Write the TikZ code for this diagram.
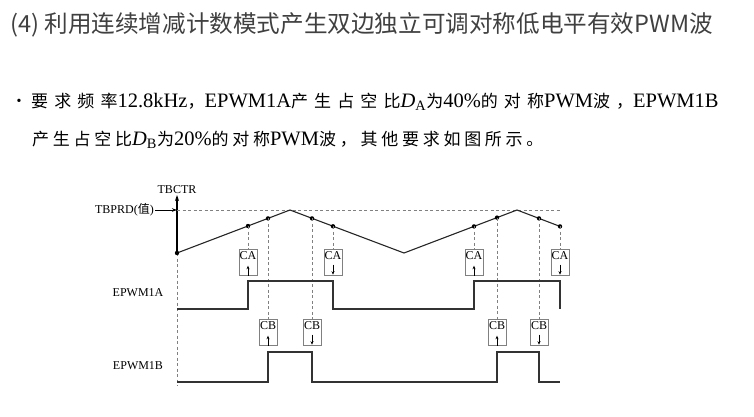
\documentclass[tikz,border=0pt]{standalone}
\usepackage{fontspec}
\setmainfont{Liberation Serif}
\newfontfamily\hanzi{Noto Sans CJK SC}
\newfontfamily\hanzisp[LetterSpace=22]{Noto Sans CJK SC}
\newfontfamily\hanziwide[LetterSpace=36]{Noto Sans CJK SC}
\usetikzlibrary{arrows.meta}
\newcommand\zh[1]{{\hanzisp\fontsize{17}{22}\selectfont #1}}
\newcommand\zhw[1]{{\hanziwide\fontsize{17}{22}\selectfont #1}}

\begin{document}
\begin{tikzpicture}[x=1pt,y=-1pt,
  guide/.style={gray,line width=0.6pt,dash pattern=on 3pt off 2.5pt},
  ramp/.style={line width=1.1pt,black!85},
  wave/.style={line width=1.3pt,black!80},
  evbox/.style={draw=gray,line width=0.7pt,minimum width=18pt,minimum height=26pt,inner sep=0pt},
  lbl/.style={font=\fontsize{12}{14}\selectfont,inner sep=1pt}]
\useasboundingbox (0,0) rectangle (754,417);

% title and requirement
\node[anchor=west,text=black!75,font=\hanzi\fontsize{23.6}{26}\selectfont,inner sep=0pt] (title) at (10,25) {(4) 利用连续增减计数模式产生双边独立可调对称低电平有效PWM波};
\node[font=\fontsize{14}{16}\selectfont,inner sep=0pt] (bullet) at (19,102) {•};
\node[anchor=west,font=\fontsize{20.5}{22}\selectfont,inner sep=0pt] (req1) at (31,102) {\zhw{要求频率}12.8kHz\zhw{，}EPWM1A\zhw{产生占空比}\textit{D}\textsubscript{A}\zhw{为}40\%\zhw{的对称}PWM\zhw{波，}EPWM1B};
\node[anchor=west,font=\fontsize{20.5}{22}\selectfont,inner sep=0pt] (req2) at (32,140) {\zh{产生占空比}\textit{D}\textsubscript{B}\zh{为}20\%\zh{的对称}PWM\zh{波，其他要求如图所示。}};

% counter points
\coordinate (o) at (177,253);
\coordinate (ca1) at (248,226);
\coordinate (cb1) at (268,218.4);
\coordinate (p1) at (290,210);
\coordinate (cb2) at (312,218.4);
\coordinate (ca2) at (333,226.3);
\coordinate (v1) at (404,253);
\coordinate (ca3) at (474,226.4);
\coordinate (cb3) at (497,217.6);
\coordinate (p2) at (517,210);
\coordinate (cb4) at (539,218.4);
\coordinate (ca4) at (560,226.4);
\coordinate (top) at (177,195);
\coordinate (prdaxis) at (177,210);
\coordinate (prdend) at (560,210);
\coordinate (obot) at (177,386);

% axis and period
\draw[line width=1.3pt,-{Stealth[length=6pt,width=4pt]}] (o) -- (top);
\node[lbl,above] (tbctr) at (top) {TBCTR};
\node[lbl,anchor=east] (prd) at (155,210) {TBPRD({\hanzi 值})};
\draw[line width=0.8pt,-{Stealth[length=5pt,width=3.5pt]}] (prd) -- (prdaxis);
\draw[guide] (prdaxis) -- (prdend);
\draw[guide] (o) -- (obot);

% counter
\draw[ramp] (o) -- (p1) -- (v1) -- (p2) -- (ca4);
\foreach \p in {o,ca1,cb1,cb2,ca2,ca3,cb3,cb4,ca4}
  \fill (\p) circle (2.2pt);

% compare events
\foreach \n/\x in {caA1/248,caA2/333,caA3/474,caA4/560}
  \node[evbox,lbl,anchor=north,minimum width=18pt,minimum height=26pt,text depth=14pt,inner sep=0pt] (\n) at (\x,249) {CA};
\foreach \n/\x in {cbB1/268,cbB2/312,cbB3/497,cbB4/539}
  \node[evbox,lbl,anchor=north,minimum width=18pt,minimum height=26pt,text depth=14pt,inner sep=0pt] (\n) at (\x,319) {CB};
\draw[guide] (ca1) -- (caA1.north);
\draw[guide] (ca2) -- (caA2.north);
\draw[guide] (ca3) -- (caA3.north);
\draw[guide] (ca4) -- (caA4.north);
\draw[guide] (cb1) -- (cbB1.north);
\draw[guide] (cb2) -- (cbB2.north);
\draw[guide] (cb3) -- (cbB3.north);
\draw[guide] (cb4) -- (cbB4.north);
\foreach \n in {caA1,caA3,cbB1,cbB3}
  \draw[line width=0.7pt,-{Stealth[length=3.5pt,width=3pt]}] (\n.south) -- ([yshift=10pt]\n.south);
\foreach \n in {caA2,caA4,cbB2,cbB4}
  \draw[line width=0.7pt,-{Stealth[length=3.5pt,width=3pt]}] ([yshift=11pt]\n.south) -- ([yshift=1pt]\n.south);

% outputs
\coordinate (alo) at (177,309);
\coordinate (ahi) at (177,281);
\coordinate (blo) at (177,382);
\coordinate (bhi) at (177,352);
\node[lbl] (epwma) at (138,293) {EPWM1A};
\node[lbl] (epwmb) at (138,366) {EPWM1B};
\draw[wave] (alo) -- (ca1|-alo) -- (ca1|-ahi) -- (ca2|-ahi) -- (ca2|-alo) -- (ca3|-alo) -- (ca3|-ahi) -- (ca4|-ahi) -- (ca4|-alo);
\draw[wave] (blo) -- (cb1|-blo) -- (cb1|-bhi) -- (cb2|-bhi) -- (cb2|-blo) -- (cb3|-blo) -- (cb3|-bhi) -- (cb4|-bhi) -- (cb4|-blo) -- (ca4|-blo);
\end{tikzpicture}
\end{document}
